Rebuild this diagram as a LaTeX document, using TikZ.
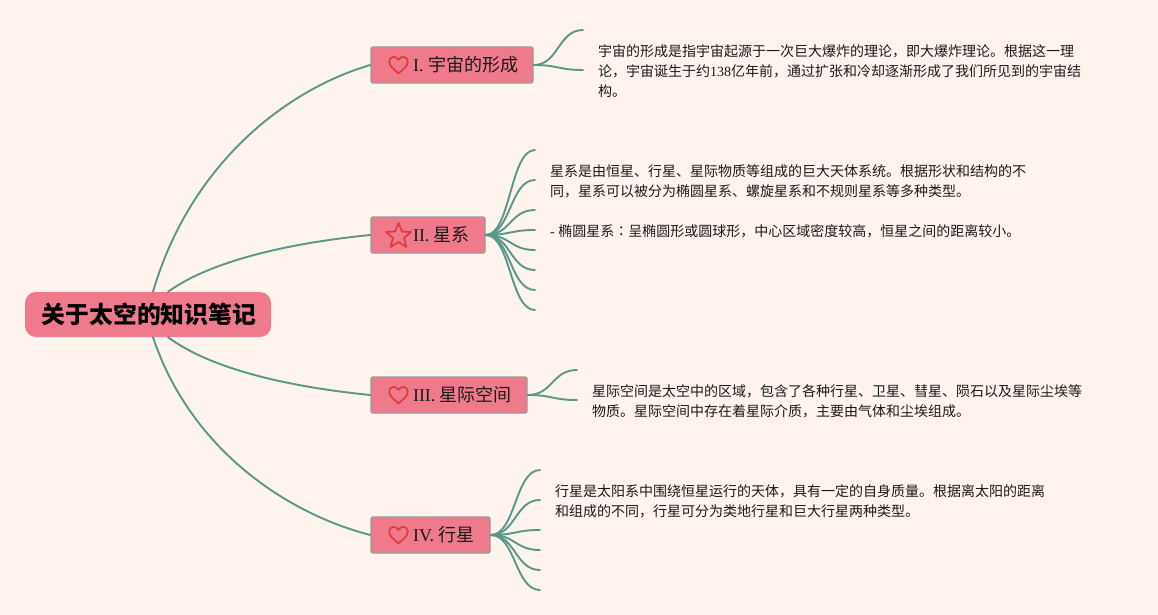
\documentclass[tikz,border=0pt]{standalone}
\usepackage{fontspec}
\setmainfont{Liberation Serif}
\newfontfamily\cjk{Noto Sans CJK SC}
\newfontfamily\cjktc{Noto Sans CJK TC}
\definecolor{bgc}{HTML}{FFF3EE}
\definecolor{boxc}{HTML}{EE7A8C}
\definecolor{linec}{HTML}{5A9786}
\definecolor{iconc}{HTML}{E23A3A}
\definecolor{edgec}{HTML}{9A9A9A}
\definecolor{inkc}{HTML}{1A1A1A}
\tikzset{
  topic/.style={draw=edgec,line width=1.4pt,fill=boxc,rounded corners=2pt,inner sep=0pt,minimum height=36pt,text width=#1,align=left,font=\fontsize{18}{22}\selectfont,text=inkc},
  rootbox/.style={fill=boxc,rounded corners=11pt,inner sep=0pt,minimum width=246pt,minimum height=45pt,font=\fontsize{23.8}{28}\selectfont\cjk\bfseries,text=black},
  body/.style={anchor=west,align=left,inner sep=0pt,font=\fontsize{14}{20}\selectfont,text=inkc},
  mainline/.style={draw=linec,line width=1.9pt,line cap=round},
  twig/.style={draw=linec,line width=1.9pt,line cap=round},
  iconline/.style={draw=iconc,line width=1.7pt,line join=round},
}
\newcommand{\heartat}[2]{\draw[iconline] (#1,#2+8.5) .. controls (#1-4,#2+4.5) and (#1-9.2,#2+1.5) .. (#1-9.2,#2-3) .. controls (#1-9.2,#2-9.5) and (#1-2,#2-9.5) .. (#1,#2-5) .. controls (#1+2,#2-9.5) and (#1+9.2,#2-9.5) .. (#1+9.2,#2-3) .. controls (#1+9.2,#2+1.5) and (#1+4,#2+4.5) .. cycle;}
\begin{document}
\begin{tikzpicture}[x=1pt,y=-1pt]
\useasboundingbox[fill=bgc] (0,0) rectangle (1158,615);
\node[rootbox] (root) at (148,314.5) {\hspace{2pt}\raisebox{-0.5pt}{关于太空的知识笔记}};
\node[topic=162pt] (n1) at (452,65) {\hspace*{42pt}\raisebox{-1pt}{I. \hspace{-1.5pt}{\cjk 宇宙的形成}}};
\node[topic=114pt] (n2) at (428,235) {\hspace*{42pt}\raisebox{-1pt}{II. \hspace{-1.5pt}{\cjk 星系}}};
\node[topic=156pt] (n3) at (449,395) {\hspace*{42pt}\raisebox{-1pt}{III. \hspace{-1.5pt}{\cjk 星际空间}}};
\node[topic=119pt] (n4) at (430.5,535) {\hspace*{42pt}\raisebox{-1pt}{IV. \hspace{-1.5pt}{\cjk 行星}}};
\heartat{398.5}{65}
\heartat{398.5}{395}
\heartat{398.5}{535}
\draw[iconline] (398.5,223) -- (402,231.5) -- (411,232) -- (404,238) -- (406.5,247) -- (398.5,242) -- (390.5,247) -- (393,238) -- (386,232) -- (395,231.5) -- cycle;
\node[body] (t1) at (598,71) {\cjk 宇宙的形成是指宇宙起源于一次巨大爆炸的理论，即大爆炸理论。根据这一理\\\cjk 论，宇宙诞生于约{\rmfamily\normalfont 138}亿年前，通过扩张和冷却逐渐形成了我们所见到的宇宙结\\\cjk 构。};
\node[body] (t2) at (550,201) {\cjk 星系是由恒星、行星、星际物质等组成的巨大天体系统。根据形状和结构的不\\\cjk 同，星系可以被分为椭圆星系、螺旋星系和不规则星系等多种类型。\\\mbox{}\\- {\cjk 椭圆星系{\cjktc ：}呈椭圆形或圆球形，中心区域密度较高，恒星之间的距离较小。}};
\node[body] (t3) at (592,401) {\cjk 星际空间是太空中的区域，包含了各种行星、卫星、彗星、陨石以及星际尘埃等\\\cjk 物质。星际空间中存在着星际介质，主要由气体和尘埃组成。};
\node[body] (t4) at (555,501) {\cjk 行星是太阳系中围绕恒星运行的天体，具有一定的自身质量。根据离太阳的距离\\\cjk 和组成的不同，行星可分为类地行星和巨大行星两种类型。};
\draw[mainline] ([xshift=5pt]root.north) .. controls (190,165) and (285,90) .. (n1.west);
\draw[mainline] ([xshift=20pt]root.north) .. controls (215,258) and (300,242) .. (n2.west);
\draw[mainline] ([xshift=20pt]root.south) .. controls (215,372) and (300,388) .. (n3.west);
\draw[mainline] ([xshift=5pt]root.south) .. controls (190,448) and (285,513) .. (n4.west);
\foreach \src/\xa/\ys in {n1/583/{30,70},n2/535/{150,180,210,230,250,270,290,310},n3/577/{370,400},n4/540/{470,500,530,550,570,590}}{
  \foreach \y in \ys {
    \coordinate (e) at (\xa,\y);
    \draw[twig] (\src.east) .. controls ([xshift=25pt]\src.east) and (\xa-25,\y) .. (e);
  }
}
\end{tikzpicture}
\end{document}
